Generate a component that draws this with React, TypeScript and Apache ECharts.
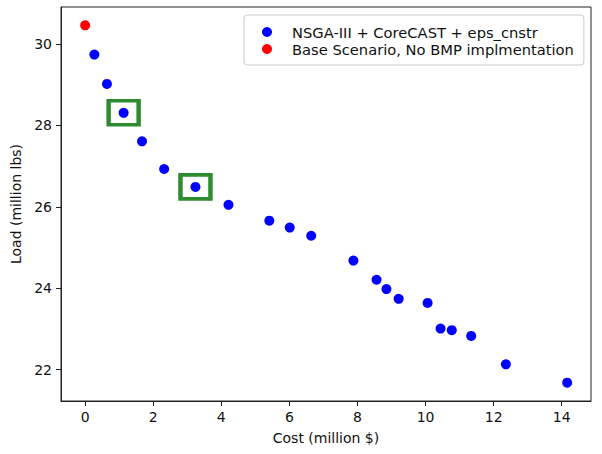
import React, { useEffect, useRef } from "react";
import * as echarts from "echarts";

const costs = [0.27, 0.64, 1.13, 1.67, 2.32, 3.24, 4.21, 5.41, 6.01, 6.64, 7.88, 8.56, 8.85, 9.21, 10.06, 10.44, 10.77, 11.34, 12.36, 14.16];
const loads = [29.74, 29.02, 28.31, 27.61, 26.93, 26.49, 26.05, 25.66, 25.49, 25.29, 24.68, 24.21, 23.98, 23.74, 23.64, 23.01, 22.97, 22.83, 22.13, 21.68];
const baseCost = [0];
const baseLoad = [30.46];
const highlightIdx = [2, 5];
const xTicks = [0, 2, 4, 6, 8, 10, 12, 14];
const yTicks = [22, 24, 26, 28, 30];
const seriesNames = ["NSGA-III + CoreCAST + eps_cnstr", "Base Scenario, No BMP implmentation"];

const FONT = "'DejaVu Sans', 'Noto Sans', sans-serif";

export default function App() {
  const ref = useRef<HTMLDivElement>(null);
  useEffect(() => {
    if (!ref.current) return;
    const chart = echarts.init(ref.current, undefined, { renderer: "svg" });
    const pareto = costs.map((c, i) => [c, loads[i]]);
    const base = baseCost.map((c, i) => [c, baseLoad[i]]);
    const boxes = highlightIdx.map((i) => [costs[i], loads[i]]);
    chart.setOption({
      animation: false,
      backgroundColor: "#ffffff",
      grid: {
        left: 61,
        right: 11,
        top: 7,
        bottom: 53,
        outerBoundsMode: "none",
        containLabel: false,
        show: true,
        borderColor: "#222",
        borderWidth: 1,
      },
      xAxis: {
        type: "value",
        min: -0.71,
        max: 14.86,
        name: "Cost (million $)",
        nameLocation: "middle",
        nameGap: 30,
        nameTextStyle: { fontFamily: FONT, fontSize: 14, color: "#111" },
        axisLine: { show: true, onZero: false, lineStyle: { color: "#222", width: 1 } },
        axisTick: { show: true, length: 5, customValues: xTicks, lineStyle: { color: "#222" } },
        axisLabel: { customValues: xTicks, fontFamily: FONT, fontSize: 14, color: "#111", margin: 9 },
        splitLine: { show: false },
      },
      yAxis: {
        type: "value",
        min: 21.23,
        max: 30.91,
        name: "Load (million lbs)",
        nameLocation: "middle",
        nameGap: 38,
        nameTextStyle: { fontFamily: FONT, fontSize: 14, color: "#111" },
        axisLine: { show: true, onZero: false, lineStyle: { color: "#222", width: 1 } },
        axisTick: { show: true, length: 5, customValues: yTicks, lineStyle: { color: "#222" } },
        axisLabel: { customValues: yTicks, fontFamily: FONT, fontSize: 14, color: "#111", margin: 9 },
        splitLine: { show: false },
      },
      legend: {
        orient: "vertical",
        left: 244,
        top: 15,
        data: seriesNames,
        icon: "circle",
        itemWidth: 10,
        itemHeight: 10,
        itemGap: 1,
        padding: [9, 10, 8, 18],
        borderColor: "#cccccc",
        borderWidth: 1,
        borderRadius: 3,
        backgroundColor: "#ffffff",
        textStyle: { fontFamily: FONT, fontSize: 14.7, color: "#111", lineHeight: 16, padding: [0, 0, 0, 15] },
      },
      series: [
        {
          name: seriesNames[0],
          type: "scatter",
          data: pareto,
          symbol: "circle",
          symbolSize: 10,
          itemStyle: { color: "#0000ff", opacity: 1 },
        },
        {
          name: seriesNames[1],
          type: "scatter",
          data: base,
          symbol: "circle",
          symbolSize: 10,
          itemStyle: { color: "#ff0000", opacity: 1 },
        },
        {
          name: "highlight",
          type: "scatter",
          data: boxes,
          symbol: "rect",
          symbolSize: [30, 24],
          z: 1,
          itemStyle: { color: "none", borderColor: "#2e8b2e", borderWidth: 4, opacity: 1 },
          silent: true,
        },
      ],
    });
    return () => chart.dispose();
  }, []);
  return <div ref={ref} style={{ width: 602, height: 454, position: "absolute", left: 0, top: 0 }} />;
}
